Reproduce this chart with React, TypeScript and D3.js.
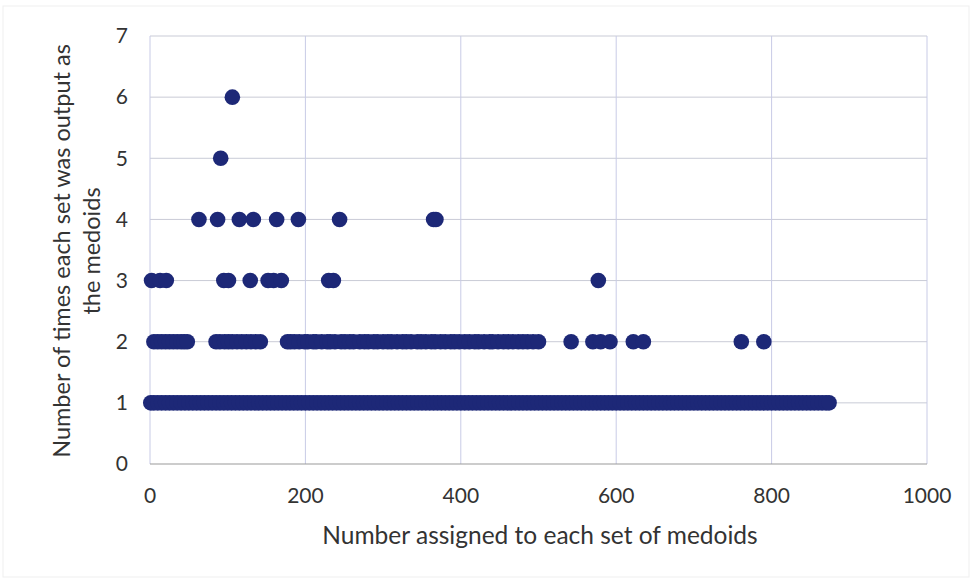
import React from "react";
import * as d3 from "d3";

// set numbers output once (y = 1) – the row is so dense it reads as a solid bar
const onceSets = [
  1, 5, 10, 15, 20, 25, 30, 35, 40, 45, 50, 55, 60, 65, 70, 75, 80, 85, 90, 95,
  100, 105, 110, 115, 120, 125, 130, 135, 140, 145, 150, 155, 160, 165, 170, 175, 180, 185, 190, 195,
  200, 205, 210, 215, 220, 225, 230, 235, 240, 245, 250, 255, 260, 265, 270, 275, 280, 285, 290, 295,
  300, 305, 310, 315, 320, 325, 330, 335, 340, 345, 350, 355, 360, 365, 370, 375, 380, 385, 390, 395,
  400, 405, 410, 415, 420, 425, 430, 435, 440, 445, 450, 455, 460, 465, 470, 475, 480, 485, 490, 495,
  500, 505, 510, 515, 520, 525, 530, 535, 540, 545, 550, 555, 560, 565, 570, 575, 580, 585, 590, 595,
  600, 605, 610, 615, 620, 625, 630, 635, 640, 645, 650, 655, 660, 665, 670, 675, 680, 685, 690, 695,
  700, 705, 710, 715, 720, 725, 730, 735, 740, 745, 750, 755, 760, 765, 770, 775, 780, 785, 790, 795,
  800, 805, 810, 815, 820, 825, 830, 835, 840, 845, 850, 855, 860, 865, 870, 874,
];
const twiceSets = [
  5, 10, 15, 20, 25, 30, 35, 40, 44, 48,
  85, 90, 96, 101, 106, 112, 118, 124, 130, 136, 142,
  177, 181, 186, 192, 199, 203, 210, 214, 221, 228, 232, 238, 246, 251, 257, 262, 270, 276, 281, 288,
  293, 300, 306, 311, 318, 325, 330, 336, 344, 349, 355, 362, 367, 374, 380, 387, 392, 398, 405, 411,
  418, 423, 430, 437, 441, 448, 455, 461, 467, 474, 480, 486, 493, 500,
  542, 570, 580, 592, 622, 635, 761, 790,
];
const threeSets = [2, 13, 21, 95, 101, 129, 152, 159, 169, 230, 236, 577];
const fourSets = [63, 87, 115, 133, 163, 191, 244, 365, 368];
const fiveSets = [91];
const sixSets = [106];

const xTicks = [0, 200, 400, 600, 800, 1000];
const yTicks = [0, 1, 2, 3, 4, 5, 6, 7];

const W = 974;
const H = 581;
const font = "Lato, 'Open Sans', sans-serif";
const dotColor = "#1d2877";
const textColor = "#333";

export default function App() {
  const x = d3.scaleLinear().domain([0, 1000]).range([150, 927]);
  const y = d3.scaleLinear().domain([0, 7]).range([464, 36]);

  const rows: [number, number[]][] = [
    [1, onceSets],
    [2, twiceSets],
    [3, threeSets],
    [4, fourSets],
    [5, fiveSets],
    [6, sixSets],
  ];
  const points = rows.flatMap(([count, sets]) => sets.map((s) => ({ s, count })));

  return (
    <svg
      width={W}
      height={H}
      style={{ position: "absolute", left: 0, top: 0, background: "#fff" }}
      fontFamily={font}
    >
      <rect x={3} y={6} width={W - 8} height={H - 10} fill="none" stroke="#efefef" />

      {/* horizontal gridlines */}
      {yTicks.slice(1).map((t) => (
        <line key={"h" + t} x1={x(0)} x2={x(1000)} y1={y(t)} y2={y(t)} stroke="#c9cbd6" strokeWidth={1} />
      ))}
      {/* vertical gridlines */}
      {xTicks.map((t) => (
        <line key={"v" + t} x1={x(t)} x2={x(t)} y1={y(7)} y2={y(0)} stroke="#c8cbe6" strokeWidth={1} />
      ))}
      {/* bottom axis */}
      <line x1={x(0)} x2={x(1000)} y1={y(0)} y2={y(0)} stroke="#9a9a9a" strokeWidth={1.2} />

      {points.map((p, i) => (
        <circle key={i} cx={x(p.s)} cy={y(p.count)} r={7.8} fill={dotColor} />
      ))}

      {yTicks.map((t) => (
        <text key={"yl" + t} x={128} y={y(t)} dy="0.35em" textAnchor="end" fontSize={21} fill={textColor}>
          {t}
        </text>
      ))}
      {xTicks.map((t) => (
        <text key={"xl" + t} x={x(t)} y={496} dy="0.35em" textAnchor="middle" fontSize={21} fill={textColor}>
          {t}
        </text>
      ))}

      <text x={540} y={535} dy="0.35em" textAnchor="middle" fontSize={24.5} fill={textColor}>
        Number assigned to each set of medoids
      </text>
      <g transform="translate(62,251) rotate(-90)">
        <text x={0} y={0} dy="0.35em" textAnchor="middle" fontSize={23.5} fill={textColor}>
          Number of times each set was output as
        </text>
        <text x={0} y={30} dy="0.35em" textAnchor="middle" fontSize={23.5} fill={textColor}>
          the medoids
        </text>
      </g>
    </svg>
  );
}
